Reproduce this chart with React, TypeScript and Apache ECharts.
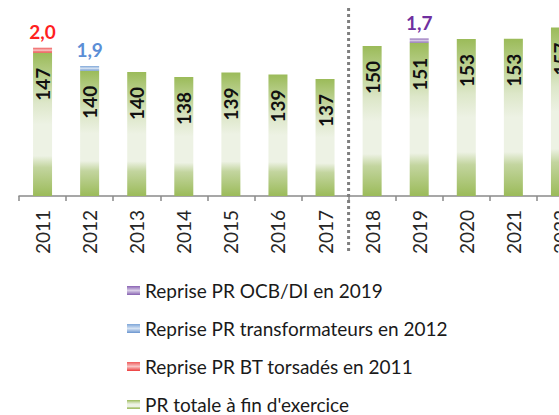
import React, { useEffect, useRef } from "react";
import * as echarts from "echarts";

const years = ["2011", "2012", "2013", "2014", "2015", "2016", "2017", "2018", "2019", "2020", "2021", "2022"];
const totalPR = [147.3, 140.1, 139.6, 137.6, 139.4, 138.6, 136.8, 150.0, 151.3, 152.8, 152.9, 157.4];
const repriseBT = [2.0, null, null, null, null, null, null, null, null, null, null, null];
const repriseTransfo = [null, 1.9, null, null, null, null, null, null, null, null, null, null];
const repriseOCB = [null, null, null, null, null, null, null, null, 1.7, null, null, null];

const nameTotal = "PR totale à fin d'exercice";
const nameBT = "Reprise PR BT torsadés en 2011";
const nameTransfo = "Reprise PR transformateurs en 2012";
const nameOCB = "Reprise PR OCB/DI en 2019";

const FONT = 'Lato, "Noto Sans", sans-serif';

const grad = (stops: [number, string][]) =>
  new echarts.graphic.LinearGradient(0, 0, 0, 1, stops.map(([offset, color]) => ({ offset, color })));

export default function App() {
  const ref = useRef<HTMLDivElement>(null);
  useEffect(() => {
    if (!ref.current) return;
    const chart = echarts.init(ref.current, null, { renderer: "svg" });
    const fmtComma = (p: any) => (p.value == null ? "" : Number(p.value).toFixed(1).replace(".", ","));
    const smallLabel = (color: string) => ({
      show: true,
      position: "top" as const,
      distance: 7,
      formatter: fmtComma,
      color,
      fontFamily: FONT,
      fontWeight: "bold" as const,
      fontSize: 19,
    });
    chart.setOption({
      animation: false,
      grid: { left: 19, top: 21, height: 175, width: 565, containLabel: false, outerBoundsMode: "none" },
      xAxis: {
        type: "category",
        data: years,
        boundaryGap: true,
        axisLine: { lineStyle: { color: "#8a8a8a", width: 1.5 } },
        axisTick: { show: true, length: 5, lineStyle: { color: "#8a8a8a", width: 1.5 } },
        axisLabel: {
          rotate: 90,
          margin: 14,
          color: "#262626",
          fontFamily: FONT,
          fontSize: 19,
          interval: 0,
          hideOverlap: false,
        },
      },
      yAxis: {
        type: "value",
        min: 90,
        max: 160,
        show: false,
        splitLine: { show: false },
      },
      legend: {
        orient: "vertical",
        left: 127,
        top: 281,
        height: 160,
        padding: 0,
        itemWidth: 13,
        itemHeight: 9,
        itemGap: 19,
        icon: "rect",
        textStyle: { fontFamily: FONT, fontSize: 19, color: "#1a1a1a", lineHeight: 16 },
        data: [nameOCB, nameTransfo, nameBT, nameTotal],
      },
      series: [
        {
          name: nameTotal,
          type: "bar",
          stack: "pr",
          barWidth: 19,
          data: totalPR,
          itemStyle: {
            color: grad([
              [0, "#9bbb59"],
              [0.35, "#dde7c9"],
              [0.5, "#edf2e4"],
              [0.72, "#edf2e4"],
              [0.8, "#c3d59f"],
              [1, "#9bbb59"],
            ]),
          },
          label: {
            show: true,
            position: "insideTop",
            rotate: 90,
            align: "right",
            verticalAlign: "middle",
            distance: 15,
            formatter: (p: any) => String(Math.round(p.value)),
            color: "#111111",
            fontFamily: FONT,
            fontWeight: "bold",
            fontSize: 19,
          },
        },
        {
          name: nameBT,
          type: "bar",
          stack: "pr",
          barWidth: 19,
          data: repriseBT,
          itemStyle: { color: grad([[0, "#ef5a5a"], [0.5, "#f8c4c4"], [1, "#ec3a3a"]]) },
          label: smallLabel("#ff1f1f"),
        },
        {
          name: nameTransfo,
          type: "bar",
          stack: "pr",
          barWidth: 19,
          data: repriseTransfo,
          itemStyle: { color: grad([[0, "#7ea6d8"], [0.5, "#d6e3f3"], [1, "#6a95cf"]]) },
          label: smallLabel("#5b8ed6"),
        },
        {
          name: nameOCB,
          type: "bar",
          stack: "pr",
          barWidth: 19,
          data: repriseOCB,
          itemStyle: { color: grad([[0, "#8a62b4"], [0.5, "#d9cee7"], [1, "#8560b0"]]) },
          label: smallLabel("#7030a0"),
        },
      ],
    });
    const x1 = chart.convertToPixel({ xAxisIndex: 0 }, "2017") as number;
    const x2 = chart.convertToPixel({ xAxisIndex: 0 }, "2018") as number;
    const xm = (x1 + x2) / 2;
    chart.setOption({
      graphic: [
        {
          type: "line",
          shape: { x1: xm, y1: 8, x2: xm, y2: 252 },
          style: { stroke: "#7f7f7f", lineWidth: 3, lineDash: [3, 3] },
          z: 10,
        },
      ],
    });
    return () => chart.dispose();
  }, []);
  return <div ref={ref} style={{ position: "absolute", left: 0, top: 0, width: 559, height: 415 }} />;
}
